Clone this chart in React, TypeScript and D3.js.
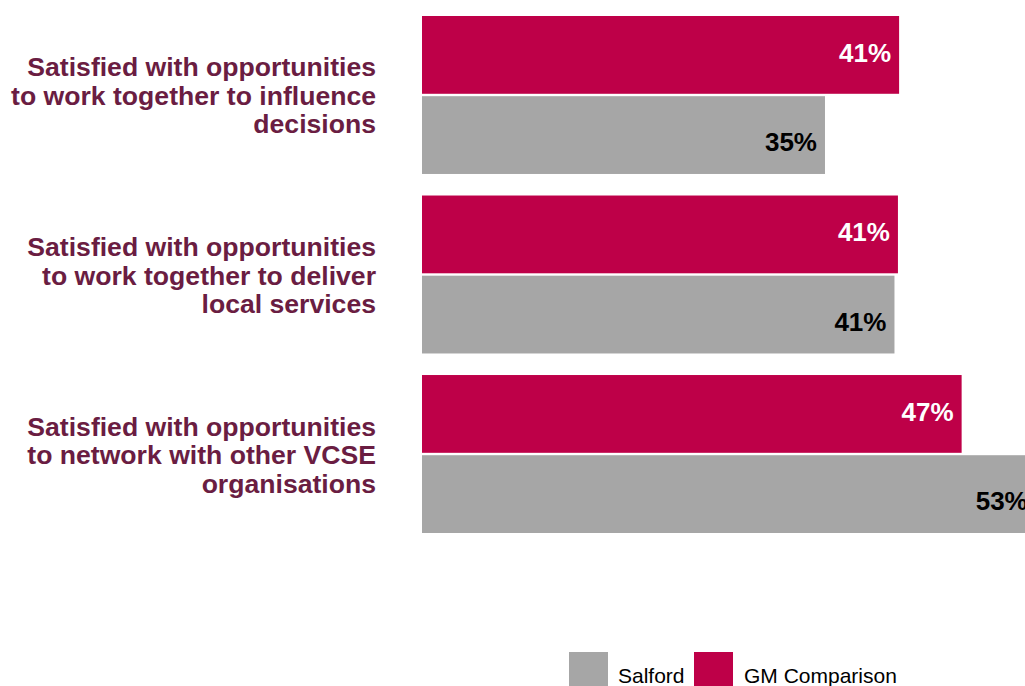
import React from "react";
import * as d3 from "d3";

const categories = [
  ["Satisfied with opportunities", "to work together to influence", "decisions"],
  ["Satisfied with opportunities", "to work together to deliver", "local services"],
  ["Satisfied with opportunities", "to network with other VCSE", "organisations"],
];
const gmValues = [41.2, 41.1, 46.6];
const salfordValues = [34.8, 40.8, 53.0];
const seriesNames = ["GM Comparison", "Salford"];
const legendItems = ["Salford", "GM Comparison"];

const W = 1025;
const H = 686;
const GM_COLOR = "#BE0048";
const SAL_COLOR = "#A6A6A6";
const LABEL_COLOR = "#6A1D42";
const FONT = "'Liberation Sans', Arial, sans-serif";

export default function App() {
  const ids = categories.map((_, i) => String(i));
  const y = d3.scaleBand<string>().domain(ids).range([16, 533]).paddingInner(0.12).paddingOuter(0);
  const ySub = d3.scaleBand<string>().domain(seriesNames).range([0, y.bandwidth()]).paddingInner(0.03);
  const x = d3.scaleLinear().domain([0, 60]).range([422, 422 + 694.8]);
  const fmt = (v: number) => d3.format(".0f")(v) + "%";

  const series = [
    { name: "GM Comparison", values: gmValues, color: GM_COLOR, text: "#FFFFFF", dy: 7 },
    { name: "Salford", values: salfordValues, color: SAL_COLOR, text: "#000000", dy: 16 },
  ];

  const legendPos: Record<string, { sx: number; tx: number; color: string }> = {
    Salford: { sx: 569, tx: 618, color: SAL_COLOR },
    "GM Comparison": { sx: 694, tx: 744, color: GM_COLOR },
  };

  return (
    <div style={{ position: "absolute", left: 0, top: 0, width: W, height: H, overflow: "hidden" }}>
      <svg width={W} height={H} style={{ display: "block", background: "#fff" }} fontFamily={FONT}>
        {ids.map((id, i) => {
          const gy = y(id)!;
          const center = gy + y.bandwidth() / 2;
          const lines = categories[i];
          const lh = 28.5;
          return (
            <g key={id}>
              {lines.map((ln, j) => (
                <text
                  key={j}
                  x={376}
                  y={center + 10 + (j - (lines.length - 1) / 2) * lh}
                  textAnchor="end"
                  fontSize={26.6}
                  fontWeight="bold"
                  fill={LABEL_COLOR}
                >
                  {ln}
                </text>
              ))}
              {series.map((s) => {
                const by = gy + ySub(s.name)!;
                const bh = ySub.bandwidth();
                const v = s.values[i];
                const xe = x(v);
                return (
                  <g key={s.name}>
                    <rect x={x(0)} y={by} width={xe - x(0)} height={bh} fill={s.color} />
                    <text
                      x={xe - 8}
                      y={by + bh / 2 + s.dy}
                      textAnchor="end"
                      fontSize={26}
                      fontWeight="bold"
                      fill={s.text}
                    >
                      {fmt(v)}
                    </text>
                  </g>
                );
              })}
            </g>
          );
        })}
        {legendItems.map((name) => {
          const p = legendPos[name];
          return (
            <g key={name}>
              <rect x={p.sx} y={652} width={39} height={36} fill={p.color} />
              <text x={p.tx} y={683} fontSize={21} fill="#000">
                {name}
              </text>
            </g>
          );
        })}
      </svg>
    </div>
  );
}
